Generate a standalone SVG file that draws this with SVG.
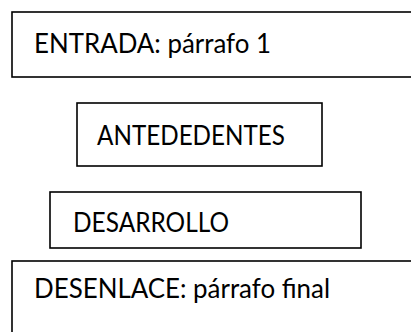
<svg xmlns="http://www.w3.org/2000/svg" width="411" height="332" viewBox="0 0 411 332">
<style>
.box{fill:#fff;stroke:#000;stroke-width:1.6}
.t{font-family:Lato,"Open Sans","Liberation Sans",sans-serif;font-size:26px;fill:#000}
</style>
<rect width="411" height="332" fill="#fff"/>
<g id="entrada"><rect class="box" x="12" y="12" width="410" height="65"/><text class="t" x="34" y="53" textLength="237" lengthAdjust="spacingAndGlyphs">ENTRADA: párrafo 1</text></g>
<g id="antecedentes"><rect class="box" x="77" y="103" width="245" height="63"/><text class="t" x="97" y="145" textLength="188" lengthAdjust="spacingAndGlyphs">ANTEDEDENTES</text></g>
<g id="desarrollo"><rect class="box" x="50" y="192" width="311" height="56"/><text class="t" x="73" y="232" textLength="156" lengthAdjust="spacingAndGlyphs">DESARROLLO</text></g>
<g id="desenlace"><rect class="box" x="12" y="261" width="410" height="90"/><text class="t" x="34" y="298" textLength="296" lengthAdjust="spacingAndGlyphs">DESENLACE: párrafo final</text></g>
<g id="connectors"></g>
</svg>
